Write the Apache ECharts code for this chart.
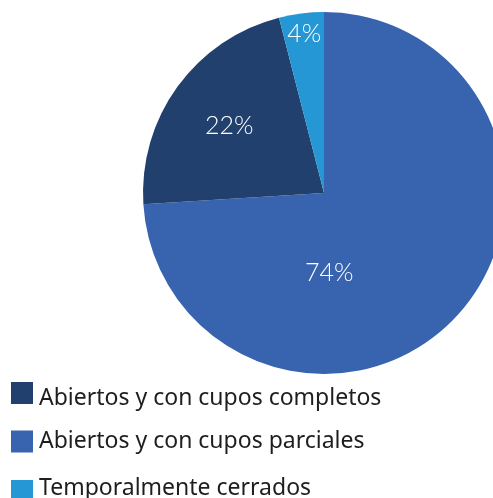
<!DOCTYPE html>
<html>
<head>
<meta charset="utf-8">
<script src="https://cdn.jsdelivr.net/npm/echarts@6/dist/echarts.min.js"></script>
<style>
  html, body { margin: 0; padding: 0; background: #fff; }
  #chart { width: 493px; height: 498px; }
</style>
</head>
<body>
<div id="chart"></div>
<script>
    // datos del gráfico
    var categories = ['Abiertos y con cupos parciales', 'Abiertos y con cupos completos', 'Temporalmente cerrados'];
    var values = [74, 22, 4];
    var legendOrder = ['Abiertos y con cupos completos', 'Abiertos y con cupos parciales', 'Temporalmente cerrados'];

    var colors = ['#3863ae', '#22406e', '#2497d4'];
    // desplazamiento de cada etiqueta
    var labelOffsets = [[-63, 16], [-19, -12], [-8, -66]];
    var legendTops = [382, 430, 477];
    // ajuste vertical del texto de cada leyenda
    var legendTextPad = [[11, 0, 0, 1], [0, 0, 0, 1], [0, 0, 5, 1]];

    var chart = echarts.init(document.getElementById('chart'));
    var seriesData = categories.map(function (name, i) {
        return {
            name: name,
            value: values[i],
            itemStyle: { color: colors[i] },
            label: { offset: labelOffsets[i] }
        };
    });

    // una leyenda por elemento, para que no se parta en columnas
    var legends = legendOrder.map(function (name, i) {
        return {
            data: [name],
            left: 11,
            top: legendTops[i],
            padding: 0,
            itemWidth: 22,
            itemHeight: 22,
            itemGap: 6,
            icon: 'rect',
            selectedMode: false,
            formatter: function (n) { return '{t|' + n + '}'; },
            textStyle: {
                rich: {
                    t: {
                        fontFamily: 'Noto Sans',
                        fontSize: 23,
                        color: '#1e1e1e',
                        padding: legendTextPad[i]
                    }
                }
            }
        };
    });

    chart.setOption({
        backgroundColor: '#fff',
        animation: false,
        legend: legends,
        series: [{
            type: 'pie',
            center: [324, 193],
            radius: 181,
            startAngle: 90,
            clockwise: true,
            data: seriesData,
            itemStyle: { borderWidth: 0 },
            label: {
                show: true,
                position: 'inside',
                formatter: '{c}%',
                color: '#ffffff',
                fontFamily: 'Lato',
                fontWeight: 300,
                fontSize: 25
            },
            labelLine: { show: false },
            emphasis: { disabled: true }
        }]
    });
</script>
</body>
</html>
